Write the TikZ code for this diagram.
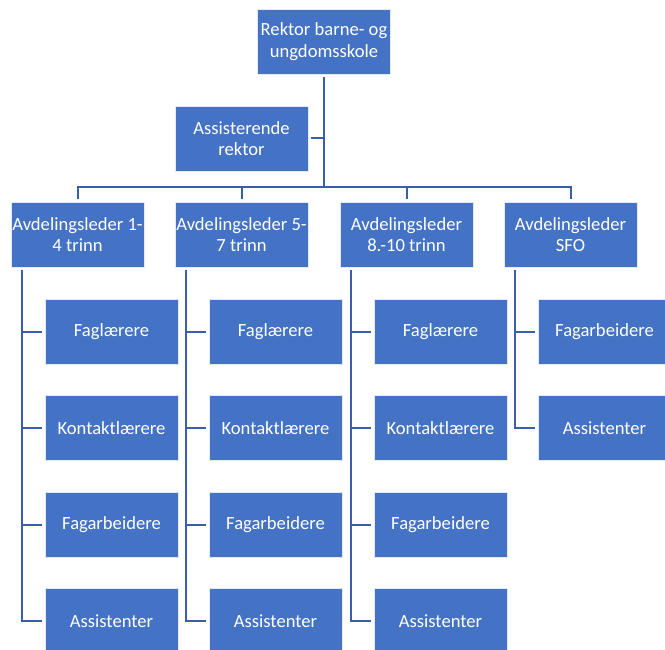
\documentclass[tikz,border=0pt]{standalone}
\usepackage{fontspec}
\setmainfont{Carlito}
\definecolor{boxblue}{RGB}{68,114,196}
\definecolor{linkblue}{RGB}{58,94,170}
\begin{document}
\begin{tikzpicture}[x=1pt,y=-1pt,
  orgbox/.style={fill=boxblue, draw=white!85!boxblue, line width=0.7pt,
    minimum width=133pt, minimum height=65pt, inner sep=0pt,
    text=white, align=center, font=\fontsize{18.6}{21.5}\selectfont},
  link/.style={draw=linkblue, line width=2pt}]
\useasboundingbox (0,0) rectangle (665,650);
\clip (0,0) rectangle (665,650);

% top management
\node[orgbox] (top) at (324,41.5) {Rektor barne- og\\ungdomsskole};
\node[orgbox] (assist) at (241.5,138.5) {Assisterende\\rektor};

% department leaders
\node[orgbox] (l1) at (77.5,234.5) {Avdelingsleder 1-\\4 trinn};
\node[orgbox] (l2) at (241.5,234.5) {Avdelingsleder 5-\\7 trinn};
\node[orgbox] (l3) at (406.5,234.5) {Avdelingsleder\\8.-10 trinn};
\node[orgbox] (l4) at (570.5,234.5) {Avdelingsleder\\SFO};

% staff under each leader
\foreach \c/\x in {1/111.5,2/275.5,3/440.5}{
  \node[orgbox] (c\c a) at (\x,331.5) {Faglærere};
  \node[orgbox] (c\c b) at (\x,428) {Kontaktlærere};
  \node[orgbox] (c\c c) at (\x,524.5) {Fagarbeidere};
  \node[orgbox] (c\c d) at (\x,621) {Assistenter};
}
\node[orgbox] (c4a) at (604.5,331.5) {Fagarbeidere};
\node[orgbox] (c4b) at (604.5,428) {Assistenter};

% connectors
\coordinate (bus) at (324,187);
\draw[link, shorten <=3pt] (top.south) -- (bus);
\draw[link, shorten <=3pt] (assist.east) -- (assist.east -| bus);
\draw[link, shorten <=3pt, shorten >=3pt] (l1.north) |- (bus) -| (l4.north);
\draw[link, shorten >=3pt] (bus -| l2.north) -- (l2.north);
\draw[link, shorten >=3pt] (bus -| l3.north) -- (l3.north);

\foreach \c in {1,2,3,4}{
  \coordinate (s\c) at ([xshift=-55.5pt]l\c.south);
}
\foreach \c in {1,2,3}{
  \foreach \k in {a,b,c,d}{
    \draw[link, shorten <=3pt, shorten >=3pt] (s\c) |- (c\c\k.west);
  }
}
\foreach \k in {a,b}{
  \draw[link, shorten <=3pt, shorten >=3pt] (s4) |- (c4\k.west);
}
\end{tikzpicture}
\end{document}
